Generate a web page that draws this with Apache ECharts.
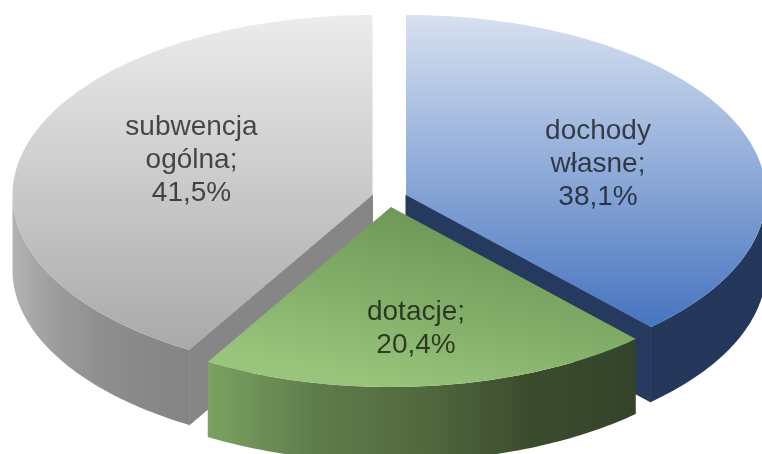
<!DOCTYPE html>
<html>
<head>
<meta charset="utf-8">
<style>
  html, body { margin: 0; padding: 0; background: #fff; }
  #main { width: 762px; height: 454px; }
</style>
<script src="https://cdn.jsdelivr.net/npm/echarts@6/dist/echarts.min.js"></script>
</head>
<body>
<div id="main"></div>
<script>
// dane
const categories = ['dochody\nwłasne', 'dotacje', 'subwencja\nogólna']
const shares = [38.1, 20.4, 41.5]

// geometria "3D" - elipsa + grubosc
const radiusX = 360
const radiusY = 180
const depth = 75
const centres = [[406, 195], [391, 207], [372.5, 195]]
const labelPos = [[598, 164], [416, 329], [191.5, 160]]

// kolory plastrow: [x, y, x2, y2] gradientu i jego stopnie
const faceDirs = [[0, 0, 0, 1], [0.5, 0, 0.4, 1], [0, 0, 0, 1]]
const faceColors = [
  ['#d7e1f0', '#4674c0'],
  ['#6c9656', '#98c47b'],
  ['#ececec', '#a9a9a9']
]
const wallColors = [
  ['#25385b', '#24375a'],
  ['#7ba262', '#5f7d4b', '#52693f', '#3b4c2e', '#34442a'],
  ['#b2b2b2', '#9c9c9c', '#8f8f8f', '#888888', '#848484']
]
const innerWallColors = ['#26395e', '#3a4c2e', '#868686']

const total = shares.reduce((a, b) => a + b, 0)

function gradient (dir, colors) {
  const stops = colors.map((color, k) => ({ offset: k / (colors.length - 1), color }))
  return new echarts.graphic.LinearGradient(dir[0], dir[1], dir[2], dir[3], stops)
}

// punkt na elipsie, kat liczony od godziny 12 zgodnie z zegarem
function rimPoint (c, deg) {
  const a = deg * Math.PI / 180
  return [c[0] + radiusX * Math.sin(a), c[1] - radiusY * Math.cos(a)]
}

function arcPoints (c, from, to) {
  const pts = []
  for (let d = from; d < to; d += 1) pts.push(rimPoint(c, d))
  pts.push(rimPoint(c, to))
  return pts
}

function lowered (pts) {
  return pts.map(p => [p[0], p[1] + depth]).reverse()
}

function renderSlice (params, api) {
  const i = params.dataIndex
  const c = centres[i]
  let from = 0
  for (let k = 0; k < i; k++) from += shares[k] / total * 360
  const to = from + api.value(0) / total * 360
  const z = i === 1 ? 10 : 1
  const children = []

  // sciana zewnetrzna - tylko przednia polowa elipsy
  const wallFrom = Math.max(from, 90)
  const wallTo = Math.min(to, 270)
  if (wallFrom < wallTo) {
    const rim = arcPoints(c, wallFrom, wallTo)
    children.push({
      type: 'polygon',
      z2: z,
      shape: { points: rim.concat(lowered(rim)) },
      style: { fill: gradient([0, 0, 1, 0], wallColors[i]) }
    })
  }

  // sciana wewnetrzna widoczna od strony wyciecia
  const cutAngle = i === 2 ? from : to
  if (i !== 1) {
    const edge = [c, rimPoint(c, cutAngle)]
    children.push({
      type: 'polygon',
      z2: z,
      shape: { points: edge.concat(lowered(edge)) },
      style: { fill: innerWallColors[i], stroke: innerWallColors[i], lineWidth: 1 }
    })
  }

  // wierzch plastra
  children.push({
    type: 'polygon',
    z2: z + 1,
    shape: { points: [c].concat(arcPoints(c, from, to)) },
    style: { fill: gradient(faceDirs[i], faceColors[i]) }
  })

  // etykieta
  children.push({
    type: 'text',
    z2: 20,
    style: {
      text: categories[i] + ';\n' + api.value(0).toFixed(1).replace('.', ',') + '%',
      x: labelPos[i][0],
      y: labelPos[i][1],
      align: 'center',
      verticalAlign: 'middle',
      fill: 'rgba(0,0,0,0.68)',
      font: '28px "Liberation Sans", Arial, sans-serif',
      lineHeight: 33
    }
  })

  return { type: 'group', children }
}

const chart = echarts.init(document.getElementById('main'))
chart.setOption({
  animation: false,
  backgroundColor: '#fff',
  series: [{
    type: 'custom',
    coordinateSystem: 'none',
    silent: true,
    renderItem: renderSlice,
    data: shares
  }]
})
</script>
</body>
</html>
